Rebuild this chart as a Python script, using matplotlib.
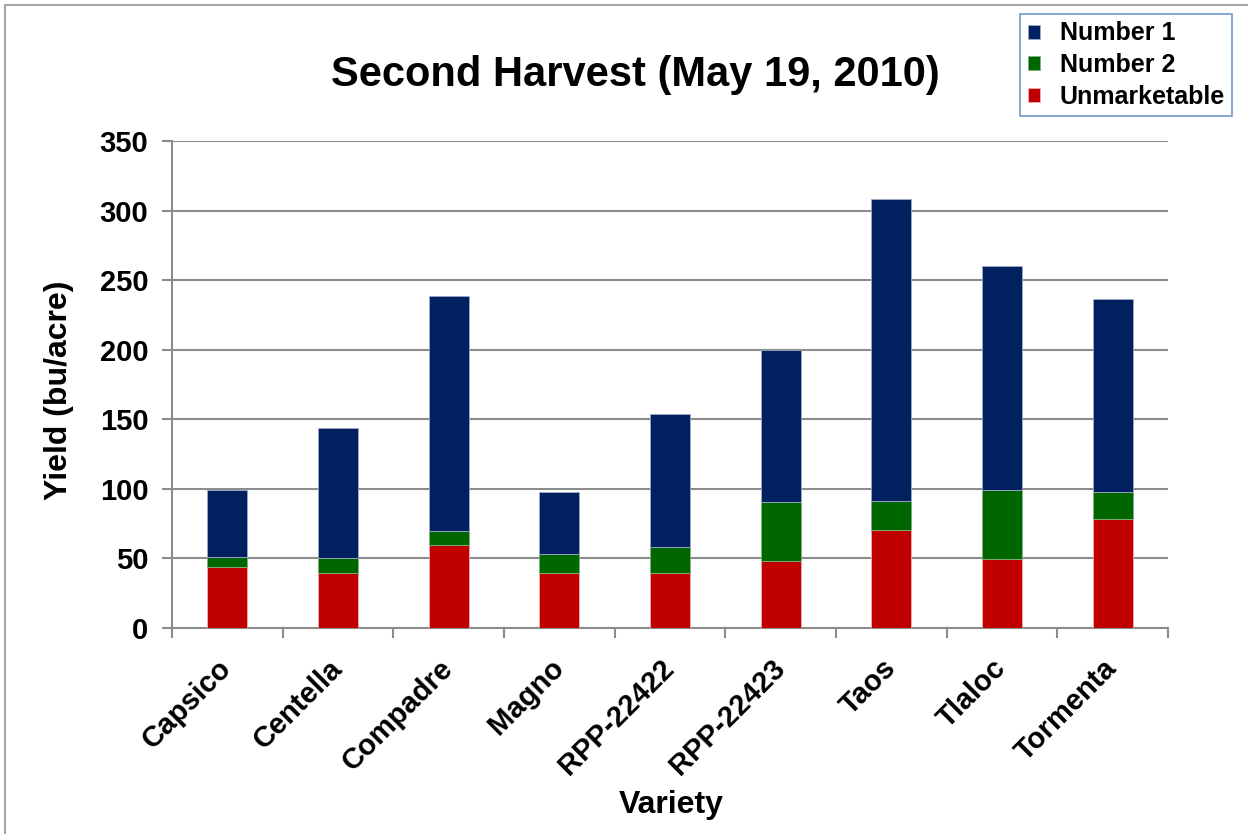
import numpy as np
import matplotlib.pyplot as plt
import matplotlib.transforms as mtransforms
from matplotlib.patches import Rectangle

plt.rcParams['font.family'] = ['Liberation Sans', 'DejaVu Sans']
plt.rcParams['font.weight'] = 'bold'

varieties = ["Capsico", "Centella", "Compadre", "Magno", "RPP-22422",
             "RPP-22423", "Taos", "Tlaloc", "Tormenta"]
unmarketable = [44, 39.5, 59.5, 39.5, 39.5, 48.5, 70.5, 49.5, 78.5]
number2 = [7, 10.5, 10, 13.5, 18.5, 42, 20.5, 49.5, 19.5]
number1 = [48.5, 93.5, 169, 44.5, 96, 109.5, 217, 161, 138.5]

navy = "#002060"
green = "#006600"
red = "#C00000"
grid = "#8c8c8c"

fig = plt.figure(figsize=(12.48, 8.34), dpi=100)
ax = fig.add_axes([172/1248, 1-628/834, (1168-172)/1248, (628-141)/834])

x = np.arange(len(varieties))
u = np.array(unmarketable)
n2 = np.array(number2)
n1 = np.array(number1)
w = 0.36
ax.bar(x, u, w, color=red, edgecolor="#f0b0b0", linewidth=0.6, label="Unmarketable", zorder=3)
ax.bar(x, n2, w, bottom=u, color=green, edgecolor="#80b080", linewidth=0.6, label="Number 2", zorder=3)
ax.bar(x, n1, w, bottom=u+n2, color=navy, edgecolor="#a0aac8", linewidth=0.6, label="Number 1", zorder=3)

ax.set_xlim(-0.5, len(varieties)-0.5)
ax.set_ylim(0, 350)
ax.set_yticks(np.arange(0, 351, 50))
ax.yaxis.grid(True, color=grid, linewidth=1.5, zorder=0)
ax.set_axisbelow(True)

ax.set_xticks(np.arange(len(varieties)+1)-0.5)
ax.set_xticklabels([])
ax.set_xticks(x, minor=True)
ax.set_xticklabels(varieties, minor=True, rotation=45, ha='right', va='center',
                   rotation_mode='anchor', fontsize=21, fontweight='bold')
shift = mtransforms.ScaledTranslation(2/100, 3/100, fig.dpi_scale_trans)
for lab in ax.get_xticklabels(minor=True):
    lab.set_transform(lab.get_transform() + shift)
ax.tick_params(axis='x', which='minor', length=0, pad=26)
ax.tick_params(axis='x', which='major', length=7, width=1.5, color=grid)
ax.tick_params(axis='y', length=7, width=1.5, color=grid, labelsize=21, pad=10)
for lab in ax.get_yticklabels():
    lab.set_fontweight('bold')

for s in ['top', 'right']:
    ax.spines[s].set_visible(False)
for s in ['left', 'bottom']:
    ax.spines[s].set_color(grid)
    ax.spines[s].set_linewidth(1.5)

fig.text(59/1248, 1-390/834, "Yield (bu/acre)", fontsize=23, fontweight='bold',
         rotation=90, ha='center', va='center')
fig.text(671/1248, 1-805/834, "Variety", fontsize=23, fontweight='bold',
         ha='center', va='center')
fig.text(635/1248, 1-75/834, "Second Harvest (May 19, 2010)", fontsize=30,
         fontweight='bold', ha='center', va='center')

h, l = ax.get_legend_handles_labels()
leg = fig.legend(h[::-1], l[::-1], loc='upper left', bbox_to_anchor=(1020/1248, 1-14/834),
                 prop={'weight': 'bold', 'size': 18}, frameon=True, fancybox=False,
                 handlelength=0.48, handleheight=0.48, handletextpad=0.8, borderpad=0.3,
                 labelspacing=0.3, borderaxespad=0)
leg.get_frame().set_edgecolor("#4f81bd")
leg.get_frame().set_linewidth(1.2)

# chart-area border
fig.patches.append(Rectangle((5/1248, -0.1), 1.2, 1-5/834+0.1, transform=fig.transFigure,
                             fill=False, edgecolor="#a6a6a6", linewidth=1.5))

fig.savefig("out.png", dpi=100)
